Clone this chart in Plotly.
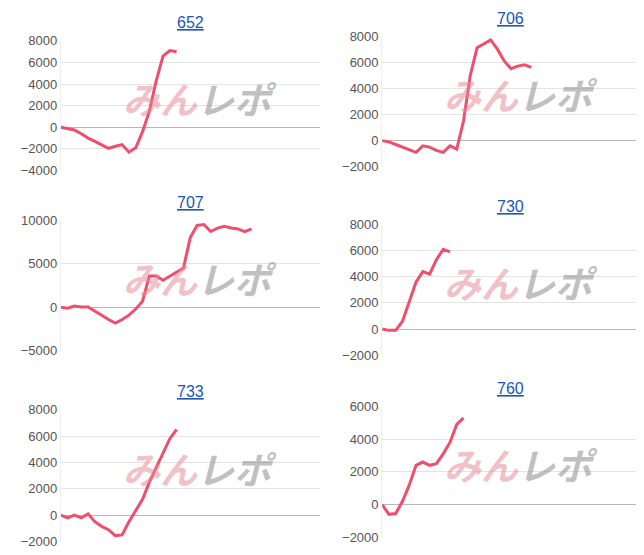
import plotly.graph_objects as go

# 台番号ごとの差枚推移
titles = ["652", "706", "707", "730", "733", "760"]

v652 = [0, -150, -250, -600, -1000, -1300, -1600, -1950, -1750, -1600, -2300,
        -1900, -400, 1500, 4300, 6600, 7100, 7000]
v706 = [0, -100, -300, -500, -700, -900, -400, -500, -750, -900, -400, -650,
        1500, 5000, 7100, 7400, 7700, 7000, 6100, 5500, 5700, 5800, 5600]
v707 = [0, -100, 150, 50, 50, -400, -900, -1400, -1800, -1400, -900, -200,
        700, 3600, 3600, 3100, 3600, 4100, 4500, 8000, 9400, 9500, 8700, 9100,
        9300, 9100, 9000, 8700, 9000]
v730 = [0, -100, -100, 600, 2100, 3600, 4400, 4200, 5300, 6100, 5900]
v733 = [0, -200, 0, -200, 100, -500, -850, -1100, -1550, -1500, -500, 400,
        1200, 2500, 3600, 4600, 5800, 6500]
v760 = [0, -600, -550, 200, 1200, 2400, 2600, 2400, 2500, 3100, 3800, 4900, 5300]

series = [v652, v706, v707, v730, v733, v760]
y_ranges = [[-4000, 8000], [-2000, 8000], [-5000, 10000],
            [-2000, 8000], [-2000, 8000], [-2000, 6000]]
y_dticks = [2000, 2000, 5000, 2000, 2000, 2000]

x_domains = [[0.082, 0.484], [0.581, 0.981]]
y_domains = [[0.712, 0.952], [0.719, 0.961],
             [0.378, 0.620], [0.370, 0.612],
             [0.025, 0.269], [0.033, 0.275]]

fig = go.Figure()
annotations = []

for i, (name, vals) in enumerate(zip(titles, series)):
    n = "" if i == 0 else str(i + 1)
    xd = x_domains[i % 2]
    yd = y_domains[i]

    fig.add_trace(go.Scatter(
        x=list(range(len(vals))), y=vals, mode="lines",
        line=dict(color="#ef4e6d", width=3),
        xaxis="x" + n, yaxis="y" + n, showlegend=False,
    ))

    fig.layout["xaxis" + n] = dict(
        domain=xd, anchor="y" + n, range=[0, 38],
        showgrid=False, showticklabels=False, zeroline=False,
        showline=False, ticks="",
    )
    fig.layout["yaxis" + n] = dict(
        domain=yd, anchor="x" + n, range=y_ranges[i], dtick=y_dticks[i],
        tickformat="d",
        gridcolor="#e4e4e4", zeroline=True, zerolinecolor="#b8b8b8",
        zerolinewidth=1, showline=True, linecolor="#eeeeee",
        tickfont=dict(size=13, color="#555555", family="Arial"),
        ticks="", ticklen=4,
    )

    cx = (xd[0] + xd[1]) / 2
    annotations.append(dict(
        text="<u>" + name + "</u>", x=cx, y=yd[1] + 0.014,
        xref="paper", yref="paper", xanchor="center", yanchor="bottom",
        showarrow=False, font=dict(size=16, color="#1a56b8", family="Arial"),
    ))
    # ウォーターマーク
    wy = yd[0] + (yd[1] - yd[0]) * 0.56
    annotations.append(dict(
        text="<b><i><span style='color:rgba(230,140,150,0.55)'>みん</span>"
             "<span style='color:rgba(150,150,150,0.6)'>レポ</span></i></b>",
        x=cx + 0.015, y=wy, xref="paper", yref="paper",
        xanchor="center", yanchor="middle", showarrow=False,
        font=dict(size=37, family="Noto Sans CJK JP"),
    ))

fig.update_layout(
    width=644, height=555,
    margin=dict(l=0, r=0, t=0, b=0),
    paper_bgcolor="white", plot_bgcolor="white",
    annotations=annotations,
)

fig.write_html("out.html")
